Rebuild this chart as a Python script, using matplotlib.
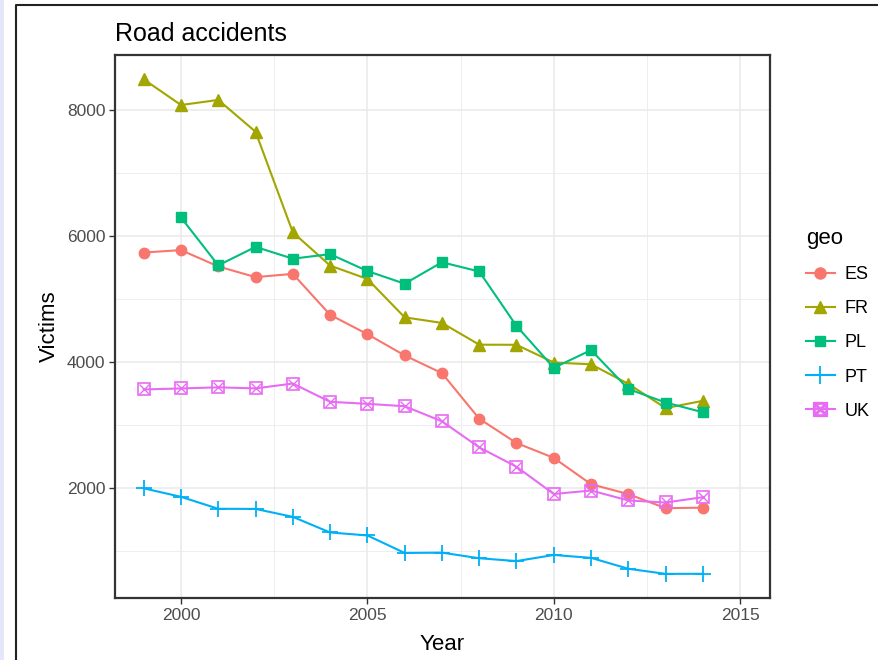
import matplotlib
matplotlib.use("Agg")
import matplotlib.pyplot as plt
from matplotlib.lines import Line2D
from matplotlib.patches import Rectangle

years = list(range(1999, 2015))
es = [5738, 5776, 5517, 5347, 5399, 4749, 4442, 4104, 3823, 3100, 2714, 2478, 2060, 1903, 1680, 1688]
fr = [8487, 8079, 8160, 7655, 6058, 5530, 5318, 4709, 4620, 4275, 4273, 3992, 3963, 3653, 3268, 3384]
pl_years = list(range(2000, 2015))
pl = [6294, 5534, 5827, 5640, 5712, 5444, 5243, 5583, 5437, 4572, 3907, 4189, 3571, 3357, 3202]
pt = [1995, 1860, 1670, 1668, 1542, 1294, 1247, 969, 974, 885, 840, 937, 891, 718, 637, 638]
uk = [3564, 3580, 3598, 3581, 3658, 3368, 3336, 3298, 3059, 2645, 2337, 1905, 1960, 1802, 1770, 1854]

colors = {"ES": "#F8766D", "FR": "#A3A500", "PL": "#00BF7D", "PT": "#00B0F6", "UK": "#E76BF3"}

plt.rcParams['font.family'] = ['Liberation Sans', 'DejaVu Sans']

fig = plt.figure(figsize=(8.79, 6.6), dpi=100)
# screenshot frame
fig.patches.append(Rectangle((0, 0), 4 / 879, 1, transform=fig.transFigure,
                             facecolor="#E4E7FA", edgecolor="none", zorder=0))
fig.add_artist(Line2D([16 / 879, 16 / 879, 1], [0, 1 - 5 / 660, 1 - 5 / 660],
                      transform=fig.transFigure, color="#222222", lw=1.5))

ax = fig.add_axes([115 / 879, 1 - 598 / 660, 655 / 879, 543 / 660])

lw = 1.5
ax.plot(years, es, color=colors["ES"], lw=lw, marker="o", ms=7.5, mec=colors["ES"], zorder=3)
ax.plot(years, fr, color=colors["FR"], lw=lw, marker="^", ms=8.5, mec=colors["FR"], zorder=3)
ax.plot(pl_years, pl, color=colors["PL"], lw=lw, marker="s", ms=7, mec=colors["PL"], zorder=3)
ax.plot(years, pt, color=colors["PT"], lw=lw, marker="+", ms=12, mew=1.3, zorder=3)
ax.plot(years, uk, color=colors["UK"], lw=lw, marker="s", ms=8, mfc="none", mew=1.2, zorder=3)
ax.plot(years, uk, color=colors["UK"], lw=0, marker="x", ms=6.5, mew=1.0, zorder=3)

ax.set_xlim(1998.23, 2015.8)
ax.set_ylim(254, 8873)
ax.set_xticks([2000, 2005, 2010, 2015])
ax.set_xticks([2002.5, 2007.5, 2012.5], minor=True)
ax.set_yticks([2000, 4000, 6000, 8000])
ax.set_yticks([1000, 3000, 5000, 7000], minor=True)
ax.grid(which="major", color="#EBEBEB", lw=1.2)
ax.grid(which="minor", color="#EBEBEB", lw=0.6)
ax.set_axisbelow(True)
ax.tick_params(which="major", length=4, width=1, color="#333333", labelcolor="#4D4D4D",
               labelsize=12.5, pad=3)
ax.tick_params(which="minor", length=0)
for s in ax.spines.values():
    s.set_color("#333333")
    s.set_linewidth(1.6)

ax.set_xlabel("Year", fontsize=16, labelpad=8)
ax.set_ylabel("Victims", fontsize=16, labelpad=5)
ax.set_title("Road accidents", fontsize=18, loc="left", pad=10)

handles = [
    Line2D([], [], color=colors["ES"], lw=lw, marker="o", ms=8),
    Line2D([], [], color=colors["FR"], lw=lw, marker="^", ms=9),
    Line2D([], [], color=colors["PL"], lw=lw, marker="s", ms=7.5),
    Line2D([], [], color=colors["PT"], lw=lw, marker="+", ms=13, mew=1.3),
    Line2D([], [], color=colors["UK"], lw=lw, marker="$\\boxtimes$", ms=10),
]
leg = fig.legend(handles, ["ES", "FR", "PL", "PT", "UK"], title="geo",
                 loc="upper left", bbox_to_anchor=(797 / 879, 1 - 219 / 660),
                 frameon=False, fontsize=13, title_fontsize=16, handlelength=1.6,
                 handletextpad=0.55, labelspacing=0.95, borderpad=0)
leg._legend_box.align = "left"

fig.savefig("out.png", dpi=100)
